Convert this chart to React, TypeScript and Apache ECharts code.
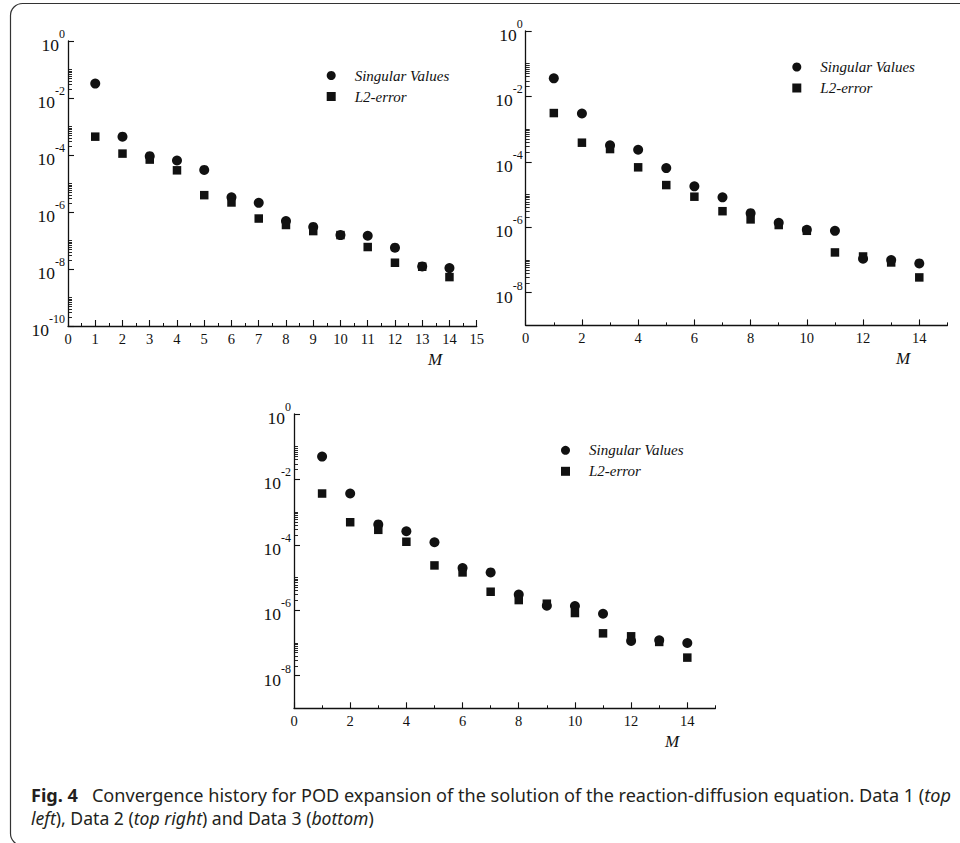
import React, { useEffect, useRef } from 'react';
import * as echarts from 'echarts';

// Mode number M
const modes = [1, 2, 3, 4, 5, 6, 7, 8, 9, 10, 11, 12, 13, 14];

// Data 1 (top left)
const singular1 = [3.2e-2, 4.4e-4, 9.1e-5, 6.4e-5, 3.0e-5, 3.3e-6, 2.1e-6, 4.8e-7, 3.0e-7, 1.55e-7, 1.47e-7, 5.6e-8, 1.23e-8, 1.08e-8];
const l2err1 = [4.4e-4, 1.12e-4, 6.9e-5, 2.9e-5, 3.9e-6, 2.16e-6, 5.9e-7, 3.5e-7, 2.14e-7, 1.55e-7, 5.9e-8, 1.66e-8, 1.2e-8, 5.2e-9];

// Data 2 (top right)
const singular2 = [3.57e-2, 3.0e-3, 3.2e-4, 2.35e-4, 6.46e-5, 1.78e-5, 8.2e-6, 2.7e-6, 1.37e-6, 8.4e-7, 7.8e-7, 1.09e-7, 9.9e-8, 7.85e-8];
const l2err2 = [3.1e-3, 3.85e-4, 2.46e-4, 6.8e-5, 1.95e-5, 8.6e-6, 3.1e-6, 1.74e-6, 1.17e-6, 7.8e-7, 1.7e-7, 1.28e-7, 8.4e-8, 2.93e-8];

// Data 3 (bottom)
const singular3 = [4.98e-2, 3.7e-3, 4.2e-4, 2.6e-4, 1.2e-4, 1.94e-5, 1.43e-5, 3.0e-6, 1.37e-6, 1.34e-6, 7.8e-7, 1.14e-7, 1.2e-7, 9.9e-8];
const l2err3 = [3.7e-3, 4.9e-4, 2.87e-4, 1.24e-4, 2.34e-5, 1.43e-5, 3.67e-6, 2.04e-6, 1.58e-6, 8.2e-7, 1.96e-7, 1.59e-7, 1.07e-7, 3.55e-8];

// Axis ticks
const xMajorA = [0, 1, 2, 3, 4, 5, 6, 7, 8, 9, 10, 11, 12, 13, 14, 15];
const xMinorA = [0.5, 1.5, 2.5, 3.5, 4.5, 5.5, 6.5, 7.5, 8.5, 9.5, 10.5, 11.5, 12.5, 13.5, 14.5];
const xMajorB = [0, 2, 4, 6, 8, 10, 12, 14];
const xMinorB = [1, 3, 5, 7, 9, 11, 13, 15];
const yDecadesA = [0, -2, -4, -6, -8, -10]; // exponents of 10
const yDecadesB = [0, -2, -4, -6, -8];
const minorMultipliers = [2, 3, 4, 5, 6, 7, 8, 9, 10];

const legendNames = ['Singular Values', 'L2-error'];
const captionLine1 = 'Convergence history for POD expansion of the solution of the reaction-diffusion equation. Data 1 (';
const captionLine2 = '), Data 2 (';

const SERIF = 'Liberation Serif';
const INK = '#111';

function minorY(decades: number[], minExp: number) {
  const out: number[] = [];
  decades.forEach((e) => {
    if (e >= 0) return;
    minorMultipliers.forEach((k) => {
      const v = e + Math.log10(k);
      if (v >= minExp && v <= 0) out.push(v);
    });
  });
  return out;
}

const panels = [
  {
    grid: { left: 68, top: 41, width: 408.7, height: 285 },
    yMin: -10, yMajor: yDecadesA, xMajor: xMajorA, xMinor: xMinorA, xMinorLen: 3,
    sv: singular1, l2: l2err1, legend: { left: 326.7, top: 68 }, nameGap: -41.7,
  },
  {
    grid: { left: 525.7, top: 31, width: 421.7, height: 294.4 },
    yMin: -9, yMajor: yDecadesB, xMajor: xMajorB, xMinor: xMinorB, xMinorLen: 3,
    sv: singular2, l2: l2err2, legend: { left: 792.3, top: 59.5 }, nameGap: -44.4,
  },
  {
    grid: { left: 294, top: 414, width: 421.4, height: 294.3 },
    yMin: -9, yMajor: yDecadesB, xMajor: xMajorB, xMinor: xMinorB, xMinorLen: 3,
    sv: singular3, l2: l2err3, legend: { left: 561, top: 442.8 }, nameGap: -43.4,
  },
];

export default function App() {
  const ref = useRef<HTMLDivElement>(null);
  useEffect(() => {
    if (!ref.current) return;
    const chart = echarts.init(ref.current, undefined, { renderer: 'svg' });

    const grids: any[] = [];
    const xAxes: any[] = [];
    const yAxes: any[] = [];
    const series: any[] = [];
    const legends: any[] = [];

    panels.forEach((p, i) => {
      grids.push({ ...p.grid, containLabel: false, outerBoundsMode: 'none' });
      // main x axis
      xAxes.push({
        type: 'value', gridIndex: i, min: 0, max: 15, position: 'bottom',
        name: 'M', nameLocation: 'end', nameGap: p.nameGap,
        nameTextStyle: {
          fontFamily: SERIF, fontStyle: 'italic', fontSize: 17, color: INK,
          align: 'center', verticalAlign: 'top', padding: [25, 0, 0, 0],
        },
        axisLine: { show: true, onZero: false, lineStyle: { color: INK, width: 1.3 } },
        axisTick: { show: true, inside: true, length: 6, customValues: p.xMajor, lineStyle: { color: INK, width: 1.1 } },
        axisLabel: { show: true, customValues: p.xMajor, fontFamily: SERIF, fontSize: 14.5, color: INK, margin: 5 },
        splitLine: { show: false },
      });
      // minor x ticks axis
      xAxes.push({
        type: 'value', gridIndex: i, min: 0, max: 15, position: 'bottom',
        axisLine: { show: false, onZero: false },
        axisTick: { show: true, inside: true, length: p.xMinorLen, customValues: p.xMinor, lineStyle: { color: INK, width: 1 } },
        axisLabel: { show: false },
        splitLine: { show: false },
      });
      // main y axis (log10 of value)
      yAxes.push({
        type: 'value', gridIndex: i, min: p.yMin, max: 0, position: 'left',
        axisLine: { show: true, onZero: false, lineStyle: { color: INK, width: 1.3 } },
        axisTick: { show: true, inside: true, length: 6, customValues: p.yMajor, lineStyle: { color: INK, width: 1.1 } },
        axisLabel: {
          show: true, customValues: p.yMajor, margin: 3,
          formatter: (v: number) => `{b|10}{s|${v}}`,
          rich: {
            b: { fontFamily: SERIF, fontSize: 17.5, color: INK, verticalAlign: 'bottom', lineHeight: 26 },
            s: { fontFamily: SERIF, fontSize: 12, color: INK, verticalAlign: 'top', lineHeight: 13 },
          },
        },
        splitLine: { show: false },
      });
      // minor y ticks axis
      yAxes.push({
        type: 'value', gridIndex: i, min: p.yMin, max: 0, position: 'left',
        axisLine: { show: false, onZero: false },
        axisTick: { show: true, inside: true, length: 4, customValues: minorY(p.yMajor, p.yMin), lineStyle: { color: INK, width: 0.9 } },
        axisLabel: { show: false },
        splitLine: { show: false },
      });

      series.push({
        type: 'scatter', name: legendNames[0], xAxisIndex: i * 2, yAxisIndex: i * 2,
        symbol: 'circle', symbolSize: 10,
        itemStyle: { color: INK, opacity: 1 },
        data: modes.map((m, k) => [m, Math.log10(p.sv[k])]),
      });
      series.push({
        type: 'scatter', name: legendNames[1], xAxisIndex: i * 2, yAxisIndex: i * 2,
        symbol: 'rect', symbolSize: 8.5,
        itemStyle: { color: INK, opacity: 1 },
        data: modes.map((m, k) => [m, Math.log10(p.l2[k])]),
      });

      legends.push({
        data: legendNames, orient: 'vertical', left: p.legend.left, top: p.legend.top,
        itemWidth: 9, itemHeight: 9, itemGap: 6, padding: 0, selectedMode: false,
        itemStyle: { opacity: 1, color: INK },
        textStyle: { fontFamily: SERIF, fontStyle: 'italic', fontSize: 15, color: INK, padding: [0, 0, 0, 14] },
      });
    });

    const capFont = 'Noto Sans';
    const capColor = '#231f20';
    const makeRich = (size: number) => ({
      b: { fontFamily: capFont, fontWeight: 'bold', fontSize: size, color: capColor, padding: [0, 14, 0, 0] },
      i: { fontFamily: capFont, fontStyle: 'italic', fontSize: size, color: capColor },
      n: { fontFamily: capFont, fontSize: size, color: capColor },
    });

    chart.setOption({
      animation: false,
      backgroundColor: '#fff',
      grid: grids,
      xAxis: xAxes,
      yAxis: yAxes,
      legend: legends,
      series,
      graphic: [
        {
          type: 'rect', silent: true,
          shape: { x: 10.5, y: 3.5, width: 1000, height: 842, r: 12 },
          style: { fill: 'none', stroke: '#333', lineWidth: 1.2 },
        },
        {
          type: 'text', x: 31, y: 795,
          style: {
            text: `{b|Fig. 4}{n|${captionLine1}}{i|top}`,
            rich: makeRich(18.1), fontFamily: capFont, fontSize: 18.1, fill: capColor, verticalAlign: 'middle',
          },
        },
        {
          type: 'text', x: 31, y: 818,
          style: {
            text: `{i|left}{n|${captionLine2}}{i|top right}{n|) and Data 3 (}{i|bottom}{n|)}`,
            rich: makeRich(17.6), fontFamily: capFont, fontSize: 17.6, fill: capColor, verticalAlign: 'middle',
          },
        },
      ],
    });
    return () => chart.dispose();
  }, []);
  return <div ref={ref} style={{ position: 'absolute', left: 0, top: 0, width: 960, height: 843 }} />;
}
